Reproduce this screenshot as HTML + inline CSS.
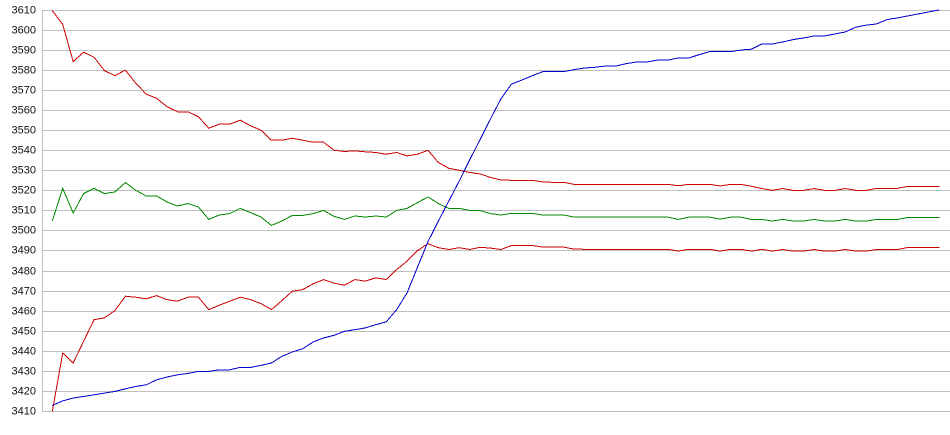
<!DOCTYPE html>
<html>
<head>
<meta charset="utf-8">
<style>
html,body{margin:0;padding:0;background:#fff;}
body{width:950px;height:435px;overflow:hidden;}
svg{display:block;}
text{font-family:"Liberation Sans",Arial,sans-serif;font-size:11px;fill:#111;}
</style>
</head>
<body>
<svg width="950" height="435" viewBox="0 0 950 435" xmlns="http://www.w3.org/2000/svg">
<rect x="0" y="0" width="950" height="435" fill="#fff"/>
<g stroke="#c0c0c0" stroke-width="1" shape-rendering="crispEdges">
<line x1="42" y1="10.5" x2="950" y2="10.5"/>
<line x1="42" y1="30.5" x2="950" y2="30.5"/>
<line x1="42" y1="50.5" x2="950" y2="50.5"/>
<line x1="42" y1="70.5" x2="950" y2="70.5"/>
<line x1="42" y1="90.5" x2="950" y2="90.5"/>
<line x1="42" y1="110.5" x2="950" y2="110.5"/>
<line x1="42" y1="130.5" x2="950" y2="130.5"/>
<line x1="42" y1="150.5" x2="950" y2="150.5"/>
<line x1="42" y1="170.5" x2="950" y2="170.5"/>
<line x1="42" y1="190.5" x2="950" y2="190.5"/>
<line x1="42" y1="210.5" x2="950" y2="210.5"/>
<line x1="42" y1="230.5" x2="950" y2="230.5"/>
<line x1="42" y1="250.5" x2="950" y2="250.5"/>
<line x1="42" y1="271.5" x2="950" y2="271.5"/>
<line x1="42" y1="291.5" x2="950" y2="291.5"/>
<line x1="42" y1="311.5" x2="950" y2="311.5"/>
<line x1="42" y1="331.5" x2="950" y2="331.5"/>
<line x1="42" y1="351.5" x2="950" y2="351.5"/>
<line x1="42" y1="371.5" x2="950" y2="371.5"/>
<line x1="42" y1="391.5" x2="950" y2="391.5"/>
<line x1="42" y1="411.5" x2="950" y2="411.5"/>
<line x1="42.5" y1="10" x2="42.5" y2="412"/>
</g>
<g text-anchor="end">
<text x="36" y="13.5">3610</text>
<text x="36" y="33.5">3600</text>
<text x="36" y="53.5">3590</text>
<text x="36" y="73.5">3580</text>
<text x="36" y="93.5">3570</text>
<text x="36" y="113.5">3560</text>
<text x="36" y="133.5">3550</text>
<text x="36" y="153.5">3540</text>
<text x="36" y="173.5">3530</text>
<text x="36" y="193.5">3520</text>
<text x="36" y="213.5">3510</text>
<text x="36" y="233.5">3500</text>
<text x="36" y="253.5">3490</text>
<text x="36" y="274.5">3480</text>
<text x="36" y="294.5">3470</text>
<text x="36" y="314.5">3460</text>
<text x="36" y="334.5">3450</text>
<text x="36" y="354.5">3440</text>
<text x="36" y="374.5">3430</text>
<text x="36" y="394.5">3420</text>
<text x="36" y="414.5">3410</text>
</g>
<g transform="matrix(10.435,0,0,-2.005,52.3,411.5)" fill="none" shape-rendering="crispEdges">
<polyline vector-effect="non-scaling-stroke" stroke="#cc0000" stroke-width="1" points="0,200 1,193 2,174.5 3,179.2 4,176.7 5,170 6,167.5 7,170.3 8,163.7 9,158.3 10,156.2 11,152 12,149.5 13,149.5 14,147 15,141.3 16,143.3 17,143.3 18,145.3 19,142.5 20,140.3 21,135.3 22,135.3 23,136.3 24,135.3 25,134.3 26,134.3 27,130.3 28,129.7 29,130 30,129.5 31,129.2 32,128.3 33,129.2 34,127.5 35,128.3 36,130.3 37,124.2 38,121.3 39,120.3 40,119.2 41,118.5 42,116.7 43,115.5 44,115.3 45,115.3 46,115.3 47,114.5 48,114.3 49,114.3 50,113.3 51,113.3 52,113.3 53,113.3 54,113.3 55,113.3 56,113.3 57,113.3 58,113.3 59,113.3 60,112.6 61,113.3 62,113.3 63,113.3 64,112.5 65,113.3 66,113.3 67,112.3 68,111.2 69,110.3 70,111.2 71,110.3 72,110.3 73,111.2 74,110.3 75,110.3 76,111.2 77,110.3 78,110.3 79,111.3 80,111.3 81,111.3 82,112.3 83,112.3 84,112.3 85,112.3"/>
<polyline vector-effect="non-scaling-stroke" stroke="#008a00" stroke-width="1" points="0,95 1,111.3 2,99 3,108.7 4,111.3 5,108.7 6,109.5 7,114.2 8,110.3 9,107.5 10,107.5 11,104.5 12,102.5 13,103.7 14,102 15,95.8 16,98 17,98.7 18,101.3 19,99.2 20,97 21,92.8 22,95 23,97.8 24,97.8 25,98.7 26,100.3 27,97.3 28,95.8 29,97.5 30,97 31,97.5 32,97 33,100.3 34,101.3 35,104.2 36,107 37,103.7 38,101.3 39,101.3 40,100.3 41,100.2 42,98.7 43,98 44,98.8 45,98.8 46,98.8 47,98 48,98 49,98 50,97 51,96.9 52,96.9 53,96.9 54,96.9 55,96.9 56,96.9 57,96.9 58,96.9 59,96.9 60,95.8 61,96.9 62,96.9 63,96.9 64,96 65,96.9 66,96.9 67,95.8 68,95.8 69,95 70,95.8 71,95 72,95 73,95.8 74,95 75,95 76,95.8 77,95 78,95 79,95.8 80,95.8 81,95.8 82,96.8 83,96.8 84,96.8 85,96.8"/>
<polyline vector-effect="non-scaling-stroke" stroke="#cc0000" stroke-width="1" points="0,0 1,29.2 2,24.2 3,35 4,45.8 5,46.7 6,50.3 7,57.5 8,57 9,56.2 10,57.8 11,55.8 12,55 13,57 14,57 15,50.8 16,53 17,55 18,57 19,55.8 20,53.8 21,50.8 22,55.3 23,60 24,60.8 25,63.7 26,65.8 27,64 28,63 29,65.8 30,65 31,66.7 32,65.8 33,70.8 34,75 35,80.3 36,83.7 37,81.7 38,80.8 39,81.7 40,80.8 41,81.9 42,81.5 43,80.8 44,82.8 45,82.8 46,82.8 47,82 48,82 49,82 50,81 51,80.9 52,80.9 53,80.9 54,80.9 55,80.9 56,80.9 57,80.9 58,80.9 59,80.9 60,80 61,80.9 62,80.9 63,80.9 64,80 65,80.9 66,80.9 67,80 68,80.9 69,80 70,80.8 71,80 72,80 73,80.8 74,80 75,80 76,80.8 77,80 78,80 79,80.8 80,80.8 81,80.8 82,81.8 83,81.8 84,81.8 85,81.8"/>
<polyline vector-effect="non-scaling-stroke" stroke="#0000cc" stroke-width="1" points="0,3 1,5.3 2,6.7 3,7.5 4,8.3 5,9.2 6,10 7,11.3 8,12.5 9,13.3 10,15.8 11,17.2 12,18.3 13,19 14,20 15,20 16,20.8 17,20.8 18,22 19,22 20,23 21,24.2 22,27.5 23,29.7 24,31.3 25,34.7 26,36.7 27,38 28,40 29,40.8 30,41.7 31,43.3 32,44.7 33,50.8 34,59.2 35,72 36,84.7 37,95 38,105 39,115 40,125.5 41,135.7 42,146 43,156 44,163.3 45,165.3 46,167.5 47,169.5 48,169.5 49,169.5 50,170.5 51,171.3 52,171.7 53,172.3 54,172.3 55,173.5 56,174.3 57,174.3 58,175.3 59,175.3 60,176.3 61,176.3 62,178 63,179.5 64,179.5 65,179.5 66,180.3 67,180.7 68,183.3 69,183.3 70,184.3 71,185.5 72,186.3 73,187.3 74,187.3 75,188.3 76,189.3 77,191.7 78,192.7 79,193.3 80,195.5 81,196.3 82,197.3 83,198.3 84,199.3 85,200.3"/>
</g>
</svg>
</body>
</html>
